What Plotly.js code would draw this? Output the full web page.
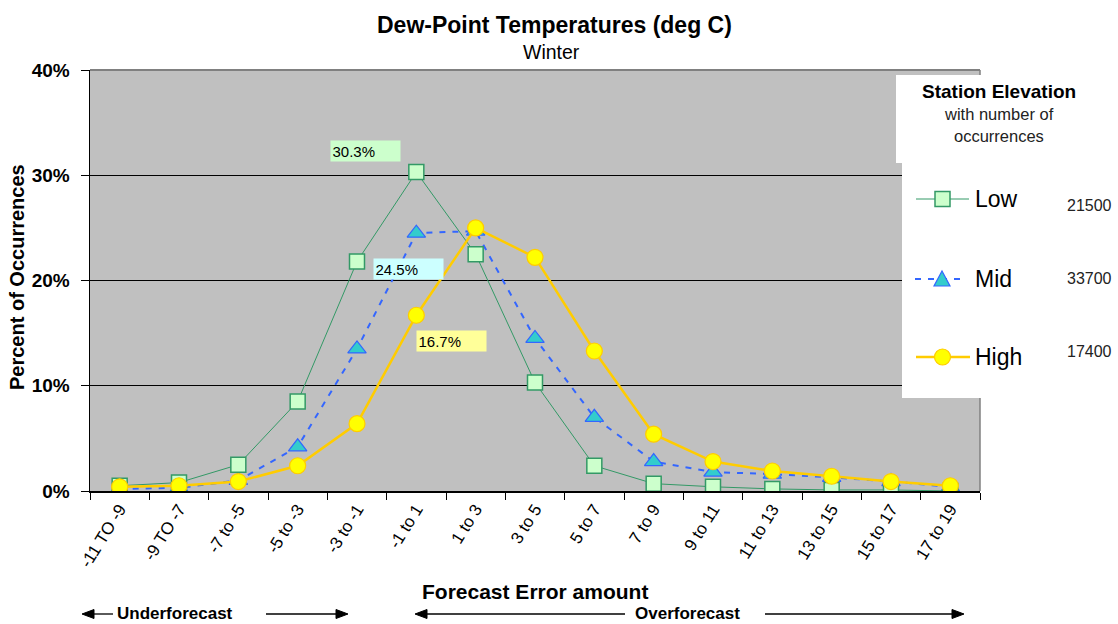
<!DOCTYPE html>
<html>
<head>
<meta charset="utf-8">
<script src="https://cdn.plot.ly/plotly-3.0.1.min.js"></script>
<style>
html,body{margin:0;padding:0;background:#fff;}
#chart{width:1118px;height:624px;}
</style>
</head>
<body>
<div id="chart"></div>
<script>
// ---------- data ----------
const categories = ["-11 TO -9","-9 TO -7","-7 to -5","-5 to -3","-3 to -1","-1 to 1","1 to 3","3 to 5","5 to 7","7 to 9","9 to 11","11 to 13","13 to 15","15 to 17","17 to 19"];
const lowValues  = [0.5, 0.8, 2.5, 8.5, 21.8, 30.3, 22.5, 10.3, 2.4, 0.7, 0.4, 0.2, 0.1, 0.1, 0.0];
const midValues  = [0.2, 0.3, 1.0, 4.2, 13.5, 24.5, 24.7, 14.5, 7.0, 2.8, 1.8, 1.6, 1.3, 0.9, 0.4];
const highValues = [0.4, 0.5, 0.9, 2.4, 6.4, 16.7, 25.0, 22.2, 13.3, 5.4, 2.8, 1.9, 1.4, 0.9, 0.5];
const seriesNames = ["Low", "Mid", "High"];
const seriesCounts = ["21500", "33700", "17400"];
const yTicks = [0, 10, 20, 30, 40];
const labelIndex = 5;

// ---------- geometry helpers (pixel -> paper) ----------
const W = 1118, H = 624;
const M = {l: 90, r: 138, t: 70, b: 133};
const PW = W - M.l - M.r, PH = H - M.t - M.b;
const px = x => (x - M.l) / PW;
const py = y => (H - M.b - y) / PH;

const FONT = "Liberation Sans, Arial, Helvetica, sans-serif";
const green = "#339966", greenFill = "#ccffcc";
const blue = "#3366ff", teal = "#33cccc";
const gold = "#ffcc00", yellow = "#ffff00";

const traces = [
  {
    x: categories, y: midValues, type: "scatter", mode: "lines+markers", name: "Mid",
    line: {color: blue, width: 2, dash: "6px,7px"},
    marker: {symbol: "triangle-up", size: 16, color: teal, line: {color: blue, width: 1.2}},
    showlegend: false, hoverinfo: "x+y"
  },
  {
    x: categories, y: lowValues, type: "scatter", mode: "lines+markers", name: "Low",
    line: {color: green, width: 1},
    marker: {symbol: "square", size: 15, color: greenFill, line: {color: green, width: 1.5}},
    showlegend: false, hoverinfo: "x+y"
  },
  {
    x: categories, y: highValues, type: "scatter", mode: "lines+markers", name: "High",
    line: {color: gold, width: 2.5},
    marker: {symbol: "circle", size: 16, color: yellow, line: {color: gold, width: 1.2}},
    showlegend: false, hoverinfo: "x+y"
  }
];

const shapes = [];
const annotations = [];

// plot border (top / right) in grey
shapes.push({type: "line", xref: "paper", yref: "paper", x0: 0, x1: 1, y0: 1, y1: 1, line: {color: "#808080", width: 2}});
shapes.push({type: "line", xref: "paper", yref: "paper", x0: 1, x1: 1, y0: 0, y1: 1, line: {color: "#808080", width: 1.5}});

// legend boxes
shapes.push({type: "rect", xref: "paper", yref: "paper", x0: px(896), x1: px(1090), y0: py(163), y1: py(75), fillcolor: "#fff", line: {width: 0}});
shapes.push({type: "rect", xref: "paper", yref: "paper", x0: px(902), x1: px(1090), y0: py(398), y1: py(162), fillcolor: "#fff", line: {width: 0}});

// legend samples
const legY = [199, 279, 357];
// Low
shapes.push({type: "line", xref: "paper", yref: "paper", x0: px(916), x1: px(969), y0: py(legY[0]), y1: py(legY[0]), line: {color: green, width: 1}});
shapes.push({type: "rect", xref: "paper", yref: "paper", x0: px(935), x1: px(950), y0: py(legY[0] + 7.5), y1: py(legY[0] - 7.5), fillcolor: greenFill, line: {color: green, width: 1.5}});
// Mid
shapes.push({type: "line", xref: "paper", yref: "paper", x0: px(915), x1: px(962), y0: py(legY[1]), y1: py(legY[1]), line: {color: blue, width: 2, dash: "6px,7px"}});
shapes.push({type: "path", xref: "paper", yref: "paper",
  path: `M ${px(934)} ${py(legY[1] + 7)} L ${px(950)} ${py(legY[1] + 7)} L ${px(942)} ${py(legY[1] - 8)} Z`,
  fillcolor: teal, line: {color: blue, width: 1.2}});
// High
shapes.push({type: "line", xref: "paper", yref: "paper", x0: px(916), x1: px(970), y0: py(legY[2]), y1: py(legY[2]), line: {color: gold, width: 2.5}});
shapes.push({type: "circle", xref: "paper", yref: "paper", x0: px(934.5), x1: px(950.5), y0: py(legY[2] + 8), y1: py(legY[2] - 8), fillcolor: yellow, line: {color: gold, width: 1.2}});

// legend texts
annotations.push({xref: "paper", yref: "paper", x: px(999), y: py(91), text: "<b>Station Elevation</b>", showarrow: false, xanchor: "center", yanchor: "middle", font: {family: FONT, size: 19, color: "#000"}});
annotations.push({xref: "paper", yref: "paper", x: px(999), y: py(114), text: "with number of", showarrow: false, xanchor: "center", yanchor: "middle", font: {family: FONT, size: 16.5, color: "#222"}});
annotations.push({xref: "paper", yref: "paper", x: px(999), y: py(136), text: "occurrences", showarrow: false, xanchor: "center", yanchor: "middle", font: {family: FONT, size: 16.5, color: "#222"}});
const countY = [206, 278, 351];
for (let i = 0; i < 3; i++) {
  annotations.push({xref: "paper", yref: "paper", x: px(973), y: py(legY[i]), text: seriesNames[i], showarrow: false, xanchor: "left", yanchor: "middle", font: {family: FONT, size: 23, color: "#000"}});
  annotations.push({xref: "paper", yref: "paper", x: px(1065), y: py(countY[i]), text: seriesCounts[i], showarrow: false, xanchor: "left", yanchor: "middle", font: {family: FONT, size: 16, color: "#222"}});
}

// data labels at peak category
const labelDefs = [
  {vals: lowValues, dx: -0.865, dy: 2.05, bg: greenFill},
  {vals: midValues, dx: -0.13, dy: -3.45, bg: "#ccffff"},
  {vals: highValues, dx: 0.593, dy: -2.41, bg: "#ffff99"}
];
labelDefs.forEach(d => {
  annotations.push({
    xref: "x", yref: "y", x: labelIndex + d.dx, y: d.vals[labelIndex] + d.dy,
    text: d.vals[labelIndex].toFixed(1) + "%", showarrow: false,
    xanchor: "center", yanchor: "middle", align: "left",
    width: 66, height: 17, borderpad: 1.5, bgcolor: d.bg,
    font: {family: FONT, size: 15, color: "#000"}
  });
});

// titles
annotations.push({xref: "paper", yref: "paper", x: px(554), y: py(25), text: "<b>Dew-Point Temperatures (deg C)</b>", showarrow: false, xanchor: "center", yanchor: "middle", font: {family: FONT, size: 23, color: "#000"}});
annotations.push({xref: "paper", yref: "paper", x: px(551), y: py(52), text: "Winter", showarrow: false, xanchor: "center", yanchor: "middle", font: {family: FONT, size: 19.5, color: "#000"}});
annotations.push({xref: "paper", yref: "paper", x: px(17), y: py(277), text: "<b>Percent of Occurrences</b>", textangle: -90, showarrow: false, xanchor: "center", yanchor: "middle", font: {family: FONT, size: 20, color: "#000"}});
annotations.push({xref: "paper", yref: "paper", x: px(535), y: py(591), text: "<b>Forecast Error amount</b>", showarrow: false, xanchor: "center", yanchor: "middle", font: {family: FONT, size: 21, color: "#000"}});

// under / over forecast arrows
const ay = 614;
function hline(x0, x1) {
  shapes.push({type: "line", xref: "paper", yref: "paper", x0: px(x0), x1: px(x1), y0: py(ay), y1: py(ay), line: {color: "#000", width: 1.3}});
}
function head(tip, base) {
  shapes.push({type: "path", xref: "paper", yref: "paper",
    path: `M ${px(tip)} ${py(ay)} L ${px(base)} ${py(ay - 4.5)} L ${px(base)} ${py(ay + 4.5)} Z`,
    fillcolor: "#000", line: {color: "#000", width: 1}});
}
head(82, 94); hline(94, 113); hline(266, 337); head(348, 336);
head(415, 427); hline(427, 625); hline(765, 953); head(964, 952);
annotations.push({xref: "paper", yref: "paper", x: px(175), y: py(ay), text: "<b>Underforecast</b>", showarrow: false, xanchor: "center", yanchor: "middle", font: {family: FONT, size: 17, color: "#000"}});
annotations.push({xref: "paper", yref: "paper", x: px(687), y: py(ay), text: "<b>Overforecast</b>", showarrow: false, xanchor: "center", yanchor: "middle", font: {family: FONT, size: 17, color: "#000"}});

const layout = {
  width: W, height: H,
  margin: M,
  paper_bgcolor: "#ffffff",
  plot_bgcolor: "#c0c0c0",
  showlegend: false,
  xaxis: {
    type: "category", categoryorder: "array", categoryarray: categories,
    range: [-0.5, categories.length - 0.5],
    showgrid: false, zeroline: false,
    showline: true, linecolor: "#000", linewidth: 1.5,
    ticks: "outside", tickson: "boundaries", ticklen: 7, tickcolor: "#000", tickwidth: 1,
    tickangle: -58, tickfont: {family: FONT, size: 17, color: "#000"},
    fixedrange: true
  },
  yaxis: {
    range: [0, 40], tickvals: yTicks, ticktext: yTicks.map(v => v + "%"),
    showgrid: true, gridcolor: "#000", gridwidth: 1, zeroline: false,
    showline: true, linecolor: "#000", linewidth: 1.5,
    ticks: "outside", ticklen: 8, tickcolor: "#000",
    ticklabelstandoff: 7,
    tickfont: {family: FONT, size: 19, color: "#000", weight: "bold"},
    fixedrange: true
  },
  shapes: shapes,
  annotations: annotations
};

Plotly.newPlot("chart", traces, layout, {displayModeBar: false, staticPlot: true});
</script>
</body>
</html>
